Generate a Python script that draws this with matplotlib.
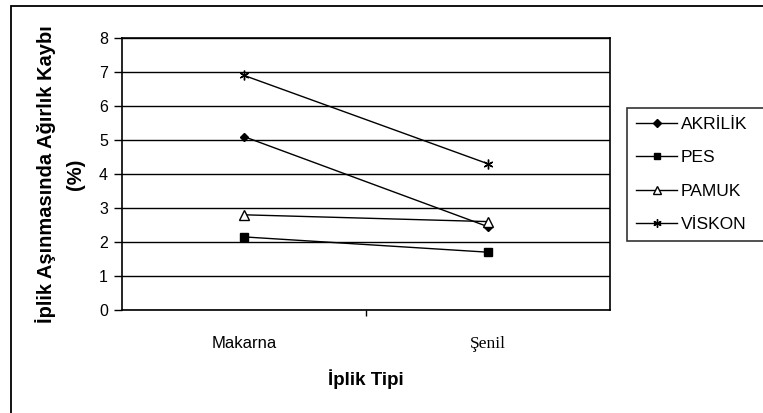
import matplotlib
matplotlib.use("Agg")
from matplotlib import pyplot as plt
from matplotlib.patches import Rectangle

# Yarn abrasion weight loss (%) per yarn type
categories = ["Makarna", "Şenil"]
akrilik = [5.1, 2.45]
pes = [2.15, 1.7]
pamuk = [2.8, 2.6]
viskon = [6.9, 4.3]
series_names = ["AKRİLİK", "PES", "PAMUK", "VİSKON"]
y_ticks = [0, 1, 2, 3, 4, 5, 6, 7, 8]

plt.rcParams['font.family'] = ['Liberation Sans', 'DejaVu Sans']

W, H = 763, 413
fig = plt.figure(figsize=(W / 100, H / 100), dpi=100)
fig.patch.set_facecolor('white')

# outer chart frame (runs off the right and bottom edge)
fig.patches.append(Rectangle((11 / W, -0.1), 1.0, (H - 6) / H + 0.1,
                             transform=fig.transFigure, fill=False,
                             edgecolor='black', linewidth=1.3))

ax = fig.add_axes([122 / W, (H - 310) / H, (610 - 122) / W, (310 - 38) / H])
x = [0.5, 1.5]

styles = [
    dict(marker='D', markersize=4.5, markerfacecolor='black'),
    dict(marker='s', markersize=5.5, markerfacecolor='black'),
    dict(marker='^', markersize=6.5, markerfacecolor='white'),
    dict(marker=(6, 2, 0), markersize=7, markerfacecolor='black'),
]
for vals, name, st in zip([akrilik, pes, pamuk, viskon], series_names, styles):
    ax.plot(x, vals, color='black', linewidth=1.0, markeredgecolor='black',
            markeredgewidth=1.0, label=name, clip_on=False, **st)

ax.set_xlim(0, 2)
ax.set_ylim(0, 8)
ax.set_yticks(y_ticks)
ax.yaxis.grid(True, color='black', linewidth=1.0)
ax.set_axisbelow(True)
ax.tick_params(axis='y', direction='out', length=6, width=1, labelsize=11.5, pad=4)

ax.set_xticks([1])
ax.set_xticklabels([''])
ax.tick_params(axis='x', direction='out', length=4, width=1)
ax.set_xticks(x, minor=True)
ax.set_xticklabels(categories, minor=True)
ax.tick_params(axis='x', which='minor', length=0, labelsize=12, pad=19)
ax.get_xticklabels(minor=True)[1].set_family(['Liberation Serif', 'DejaVu Serif'])
ax.get_xticklabels(minor=True)[1].set_fontsize(12.5)

for sp in ax.spines.values():
    sp.set_color('black')
    sp.set_linewidth(1.2)

ax.set_xlabel("İplik Tipi", fontsize=13.5, fontweight='bold', labelpad=12)
ax.set_ylabel("İplik Aşınmasında Ağırlık Kaybı\n(%)", fontsize=14.5, fontweight='bold',
              labelpad=10, linespacing=1.65)

leg = ax.legend(loc='upper left', bbox_to_anchor=(627 / W, (H - 108) / H, 0.2, 0.0),
                bbox_transform=fig.transFigure, mode='expand', frameon=True,
                fancybox=False, edgecolor='black', fontsize=12.5, handlelength=2.4,
                handletextpad=0.2, labelspacing=1.05, borderpad=0.5, borderaxespad=0,
                markerscale=0.85)
leg.get_frame().set_linewidth(1.2)

fig.savefig("out.png", dpi=100)
